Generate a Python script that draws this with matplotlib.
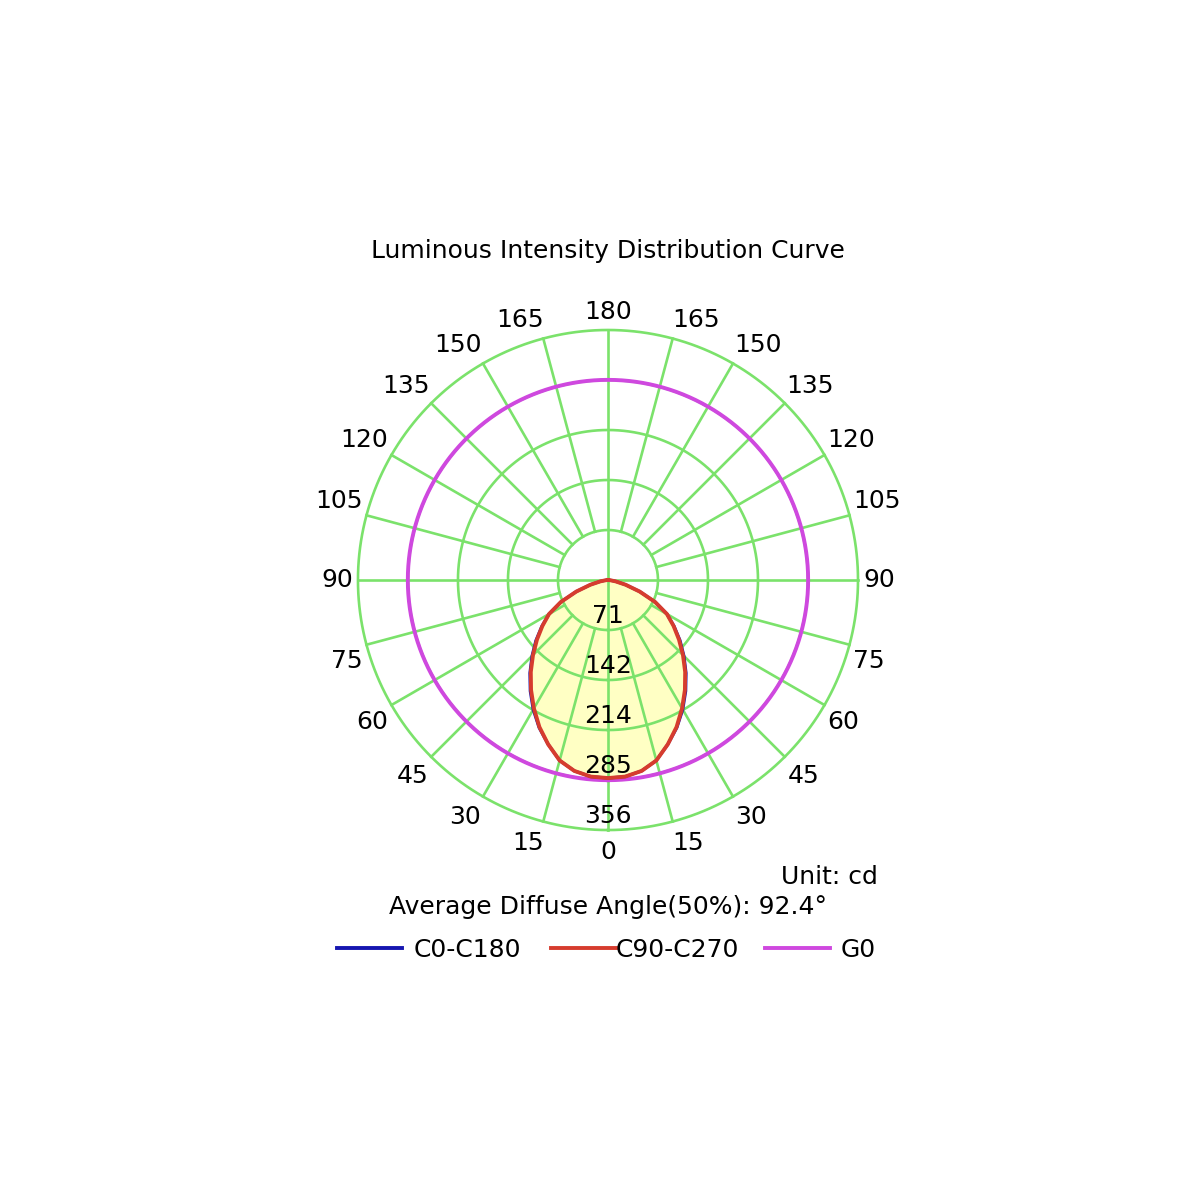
import numpy as np
import matplotlib
matplotlib.use("Agg")
import matplotlib.pyplot as plt
from matplotlib.lines import Line2D

# ---- data (cd), half-plane angles from nadir ----
angles = [0, 5, 10, 15, 20, 25, 30, 35, 40, 45, 50, 55, 60, 65, 70, 75, 80, 85, 90]
c0_c180 = [282, 281, 276, 266, 249, 232, 213, 193, 173, 153, 134, 115, 97, 74, 48, 26, 11, 3, 0]
c90_c270 = [282, 281, 276, 266, 249, 231, 211, 191, 171, 151, 132, 114, 97, 74, 48, 26, 11, 3, 0]
g0_value = 285

ring_labels = ["71", "142", "214", "285", "356"]
r_max = 356
angle_ticks = [0, 15, 30, 45, 60, 75, 90, 105, 120, 135, 150, 165, 180]

title = "Luminous Intensity Distribution Curve"
unit_text = "Unit: cd"
diffuse_text = "Average Diffuse Angle(50%): 92.4°"

GREEN = "#7BE26B"
MAGENTA = "#CF48DF"
RED = "#D63C2E"
BLUE = "#1616B0"
FILL = "#FFFFC4"
FS = 18

# label nudges in pixels (outward x, down y) per tick, to sit like the original
label_nudge = {0: (0, 0), 15: (10, 0), 30: (7, 1), 45: (3, 4), 60: (0, 6),
               75: (-2, 11), 90: (-1, 0), 105: (6, -9), 120: (8, -4),
               135: (10, -2), 150: (14, 1), 165: (18, 3), 180: (0, 4)}

plt.rcParams["font.family"] = ["DejaVu Sans"]

fig = plt.figure(figsize=(12, 12), dpi=100)
ax = fig.add_axes([0.2983, 0.3083, 0.4167, 0.4167], projection="polar")
ax.set_theta_zero_location("S")
ax.set_theta_direction(-1)
ax.set_rlim(0, r_max)
ax.grid(False)
ax.set_xticks([])
ax.set_yticks([])
ax.spines["polar"].set_visible(False)
ax.patch.set_alpha(0)

px = r_max / 250.0  # cd per pixel

# ---- grid ----
ring_vals = [r_max * (i + 1) / 5 for i in range(5)]
full = np.linspace(0, 2 * np.pi, 721)
for rv in ring_vals:
    ax.plot(full, np.full_like(full, rv), color=GREEN, lw=1.9, zorder=2, clip_on=False)
for a in range(0, 360, 15):
    t = np.deg2rad(a)
    r0 = 0 if a % 90 == 0 else ring_vals[0]
    ax.plot([t, t], [r0, r_max], color=GREEN, lw=1.9, zorder=2, clip_on=False)

# ---- curves ----
def mirror(vals):
    a = np.deg2rad(np.array(angles, dtype=float))
    v = np.array(vals, dtype=float)
    th = np.concatenate([-a[::-1], a[1:]])
    rr = np.concatenate([v[::-1], v[1:]])
    return th, rr

th_r, rr_r = mirror(c90_c270)
th_b, rr_b = mirror(c0_c180)
ax.fill(th_r, rr_r, color=FILL, zorder=1, lw=0)
ax.plot(full, np.full_like(full, g0_value), color=MAGENTA, lw=2.8, zorder=3)
ax.plot(th_b, rr_b, color=BLUE, lw=2.2, zorder=4)
ax.plot(th_r, rr_r, color=RED, lw=2.8, zorder=5)

# ---- ring labels ----
for rv, lab in zip(ring_vals, ring_labels):
    ax.text(0, rv - 14 * px, lab, ha="center", va="center", fontsize=FS,
            zorder=6, clip_on=False)

# ---- angle labels ----
for a in angle_ticks:
    sides = [1] if a in (0, 180) else [1, -1]
    nx, ny = label_nudge[a]
    for sgn in sides:
        t = np.deg2rad(sgn * a)
        # theta direction is clockwise from south: +a sits on the left
        ax.annotate(str(a), xy=(t, 272 * px), xytext=(-sgn * nx, -ny),
                    textcoords="offset pixels", ha="center", va="center",
                    fontsize=FS, annotation_clip=False)

# ---- texts ----
fig.text(0.5067, 0.7908, title, ha="center", va="center", fontsize=FS)
fig.text(0.7317, 0.2692, unit_text, ha="right", va="center", fontsize=FS)
fig.text(0.5067, 0.2442, diffuse_text, ha="center", va="center", fontsize=FS)

# ---- legend: three fixed-width entries ----
entries = [("C0-C180", BLUE, 337, 0.48), ("C90-C270", RED, 551, 0.0),
           ("G0", MAGENTA, 765, 0.44)]
for name, col, x0, pad in entries:
    h = Line2D([], [], color=col, lw=2.8)
    leg = fig.legend([h], [name], loc="center left",
                     bbox_to_anchor=(x0 / 1200, 1 - 950 / 1200),
                     frameon=False, fontsize=FS, handlelength=2.6,
                     handletextpad=pad, borderpad=0, borderaxespad=0)

fig.savefig("out.png", dpi=100, facecolor="white")
